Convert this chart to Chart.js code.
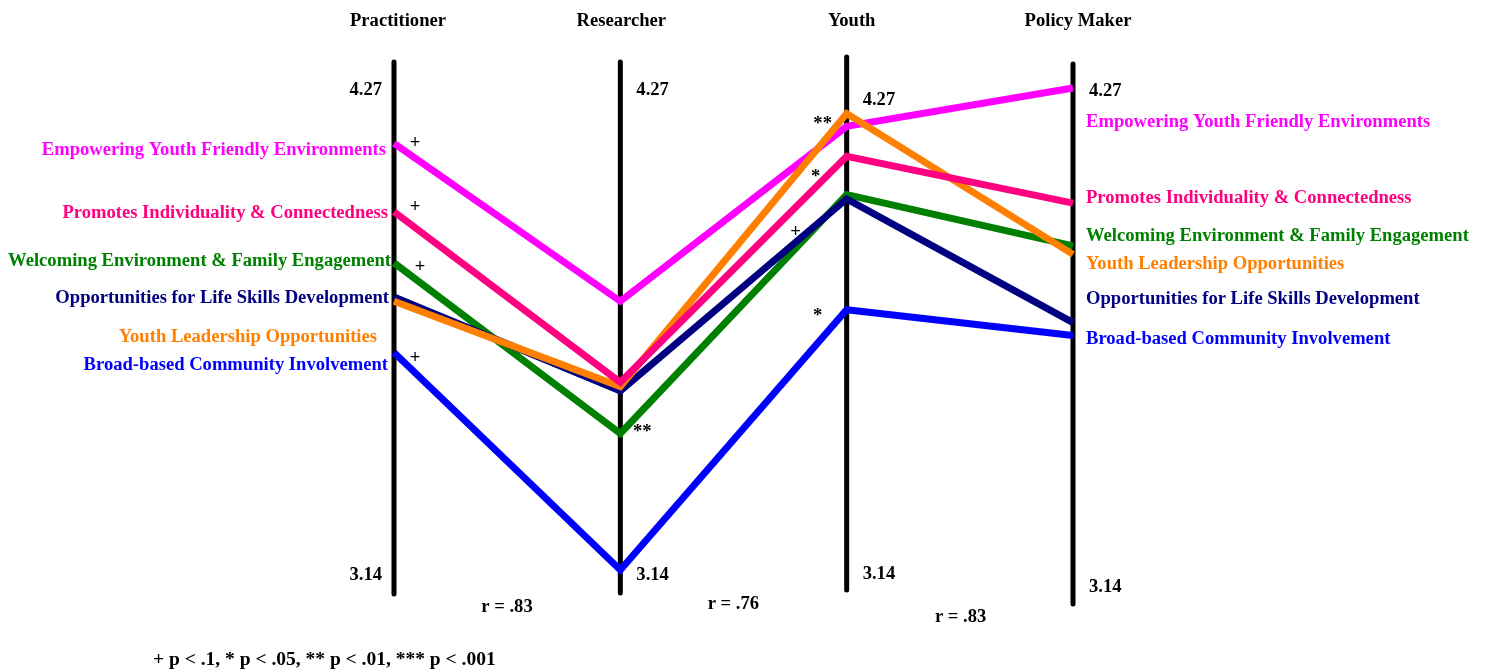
<!DOCTYPE html>
<html>
<head>
<meta charset="utf-8">
<script src="https://cdn.jsdelivr.net/npm/chart.js@4.4.1/dist/chart.umd.min.js"></script>
<style>
  html, body { margin: 0; padding: 0; background: #fff; }
  #wrap { width: 1487px; height: 670px; }
</style>
</head>
<body>
<div id="wrap"><canvas id="chart" width="1487" height="670"></canvas></div>
<script>
// stakeholder groups (one vertical axis each)
const groups = ['Practitioner', 'Researcher', 'Youth', 'Policy Maker'];
const scaleMin = 3.14;
const scaleMax = 4.27;

const seriesNames = [
  'Empowering Youth Friendly Environments',
  'Promotes Individuality & Connectedness',
  'Welcoming Environment & Family Engagement',
  'Opportunities for Life Skills Development',
  'Youth Leadership Opportunities',
  'Broad-based Community Involvement'
];
const seriesColors = ['#ff00ff', '#ff0080', '#008000', '#000080', '#ff8000', '#0000ff'];

// mean ratings per group, order follows `groups`
const empowering = [4.14, 3.77, 4.18, 4.27];
const promotes = [3.98, 3.58, 4.11, 4.00];
const welcoming = [3.86, 3.46, 4.02, 3.90];
const lifeSkills = [3.78, 3.56, 4.01, 3.72];
const leadership = [3.77, 3.57, 4.21, 3.88];
const community = [3.65, 3.14, 3.75, 3.69];
const seriesValues = [empowering, promotes, welcoming, lifeSkills, leadership, community];

// draw order: lower number ends up on top
const drawOrder = [3, 1, 5, 4, 2, 6];

const correlations = ['r = .83', 'r = .76', 'r = .83'];
const footnote = '+ p < .1, * p < .05, ** p < .01, *** p < .001';

const FONT = 'bold 18.6px "Liberation Serif", "Times New Roman", serif';

// decoration: axes, titles, tick labels, series labels, significance marks
const decorPlugin = {
  id: 'decor',
  beforeDatasetsDraw(chart) {
    const { ctx } = chart;
    const xs = chart.scales.x;
    // axis extents differ slightly per axis in the original
    const extents = [[62, 594], [62, 593], [57, 590], [64, 604]];
    ctx.save();
    ctx.strokeStyle = '#000';
    ctx.lineWidth = 5;
    ctx.lineCap = 'round';
    groups.forEach((g, i) => {
      const x = xs.getPixelForValue(i);
      ctx.beginPath();
      ctx.moveTo(x, extents[i][0]);
      ctx.lineTo(x, extents[i][1]);
      ctx.stroke();
    });
    ctx.restore();
  },
  afterDatasetsDraw(chart) {
    const { ctx } = chart;
    const xs = chart.scales.x;
    const px = groups.map((g, i) => xs.getPixelForValue(i));

    ctx.save();
    ctx.font = FONT;
    ctx.fillStyle = '#000';
    ctx.textBaseline = 'middle';

    // group titles
    ctx.textAlign = 'center';
    const titleDx = [4, 1, 5, 5];
    groups.forEach((g, i) => ctx.fillText(g, px[i] + titleDx[i], 21));

    // min / max tick labels
    const topY = [90, 90, 100, 91];
    const botY = [575, 575, 574, 587];
    groups.forEach((g, i) => {
      if (i === 0) {
        ctx.textAlign = 'right';
        ctx.fillText(scaleMax.toFixed(2), px[i] - 12, topY[i]);
        ctx.fillText(scaleMin.toFixed(2), px[i] - 12, botY[i]);
      } else {
        ctx.textAlign = 'left';
        ctx.fillText(scaleMax.toFixed(2), px[i] + 16, topY[i]);
        ctx.fillText(scaleMin.toFixed(2), px[i] + 16, botY[i]);
      }
    });

    // series labels left of first axis and right of last axis
    const leftY = [150, 213, 261, 298, 337, 365];
    const leftDx = [-8, -6, -3, -5, -17, -6];
    const rightY = [122, 198, 236, 299, 264, 339];
    seriesNames.forEach((name, s) => {
      ctx.fillStyle = seriesColors[s];
      ctx.textAlign = 'right';
      ctx.fillText(name, px[0] + leftDx[s], leftY[s]);
      ctx.textAlign = 'left';
      ctx.fillText(name, px[3] + 13, rightY[s]);
    });

    // significance marks
    ctx.fillStyle = '#000';
    ctx.textAlign = 'center';
    const marks = [
      ['+', px[0] + 21, 143], ['+', px[0] + 21, 207], ['+', px[0] + 26, 267], ['+', px[0] + 21, 358],
      ['**', px[1] + 22, 432],
      ['**', px[2] - 24, 124], ['*', px[2] - 31, 177], ['+', px[2] - 51, 232], ['*', px[2] - 29, 316]
    ];
    marks.forEach(([t, x, y]) => ctx.fillText(t, x, y));

    // correlations between adjacent groups
    const rY = [607, 604, 617];
    const rDx = [113, 113, 114];
    correlations.forEach((r, i) => ctx.fillText(r, px[i] + rDx[i], rY[i]));

    ctx.textAlign = 'left';
    ctx.font = 'bold 19.5px "Liberation Serif", "Times New Roman", serif';
    ctx.fillText(footnote, 153, 660);
    ctx.restore();
  }
};

new Chart(document.getElementById('chart'), {
  type: 'line',
  data: {
    labels: groups,
    datasets: seriesNames.map((name, s) => ({
      label: name,
      data: seriesValues[s],
      borderColor: seriesColors[s],
      backgroundColor: seriesColors[s],
      borderWidth: 7,
      borderJoinStyle: 'miter',
      borderCapStyle: 'butt',
      pointRadius: 0,
      tension: 0,
      fill: false,
      clip: false,
      order: drawOrder[s]
    }))
  },
  options: {
    responsive: false,
    animation: false,
    layout: { padding: { left: 394, right: 414, top: 88, bottom: 100 } },
    plugins: {
      legend: { display: false },
      tooltip: { enabled: false }
    },
    scales: {
      x: { type: 'category', offset: false, display: false },
      y: { type: 'linear', min: scaleMin, max: scaleMax, display: false }
    }
  },
  plugins: [decorPlugin]
});
</script>
</body>
</html>
